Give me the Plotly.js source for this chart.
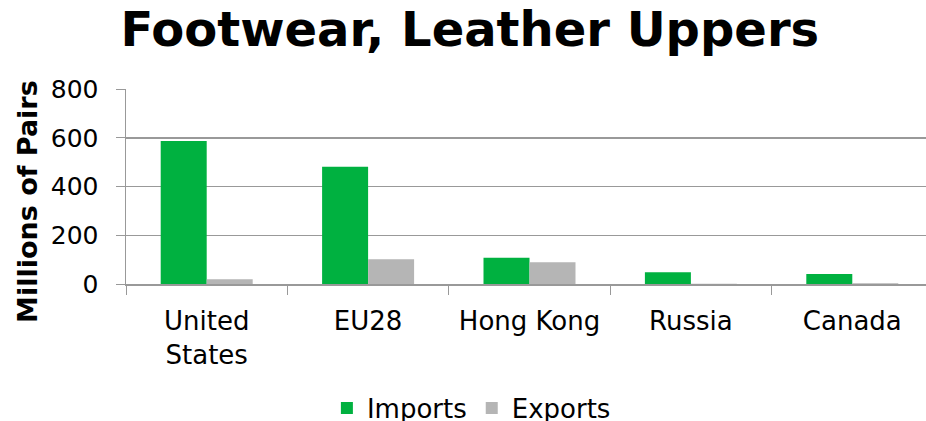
<!DOCTYPE html>
<html>
<head>
<meta charset="utf-8">
<script src="https://cdn.plot.ly/plotly-3.0.1.min.js"></script>
<style>html,body{margin:0;padding:0;overflow:hidden;background:#fff;}</style>
</head>
<body>
<div id="chart" style="width:934px;height:421px;"></div>
<script>
const categories = ["United States", "EU28", "Hong Kong", "Russia", "Canada"];
const tickLabels = ["United<br>States", "EU28", "Hong Kong", "Russia", "Canada"];
const imports = [587, 481, 108, 48, 41];
const exports = [20, 102, 89, 1, 3];

const font = "DejaVu Sans, Verdana, sans-serif";

const data = [
  {type: "bar", name: "Imports", x: categories, y: imports, marker: {color: "#00B140"}},
  {type: "bar", name: "Exports", x: categories, y: exports, marker: {color: "#B5B5B5"}}
];

const layout = {
  width: 934, height: 421,
  margin: {l: 126, r: 1, t: 89, b: 137, autoexpand: false},
  paper_bgcolor: "#fff", plot_bgcolor: "#fff",
  font: {family: font, color: "#000", size: 27},
  title: {text: "<b>Footwear, Leather Uppers</b>", font: {family: font, size: 48, color: "#000"},
          x: 0.503, xref: "container", xanchor: "center", y: 0.93, yref: "container", yanchor: "middle"},
  barmode: "group", bargap: 0.43, bargroupgap: 0,
  xaxis: {tickvals: categories, ticktext: tickLabels, tickson: "boundaries", ticks: "outside", ticklen: 9,
          tickcolor: "#999", showline: true, linecolor: "#999", linewidth: 1.5, automargin: false,
          ticklabelstandoff: 13,
          tickfont: {family: font, size: 26, color: "#000"}, fixedrange: true},
  yaxis: {range: [0, 800], dtick: 200, showgrid: true, gridcolor: "#999", gridwidth: 1.5, automargin: false,
          showline: true, linecolor: "#999", linewidth: 1.5, ticks: "outside", ticklen: 9, tickcolor: "#999",
          ticklabelstandoff: 12,
          zeroline: false, tickfont: {family: font, size: 25, color: "#000"}},
  annotations: [{text: "<b>Millions of Pairs</b>", xref: "paper", yref: "paper", x: -0.1227, y: 0.4256,
                 xanchor: "center", yanchor: "middle", textangle: -90, showarrow: false,
                 font: {family: font, size: 27, color: "#000"}}],
  showlegend: true,
  legend: {orientation: "h", x: 0.428, xanchor: "center", y: -0.636, yanchor: "middle",
           maxheight: 200,
           font: {family: font, size: 26, color: "#000"}, itemwidth: 30}
};

Plotly.newPlot("chart", data, layout, {displayModeBar: false, staticPlot: true});
</script>
</body>
</html>
